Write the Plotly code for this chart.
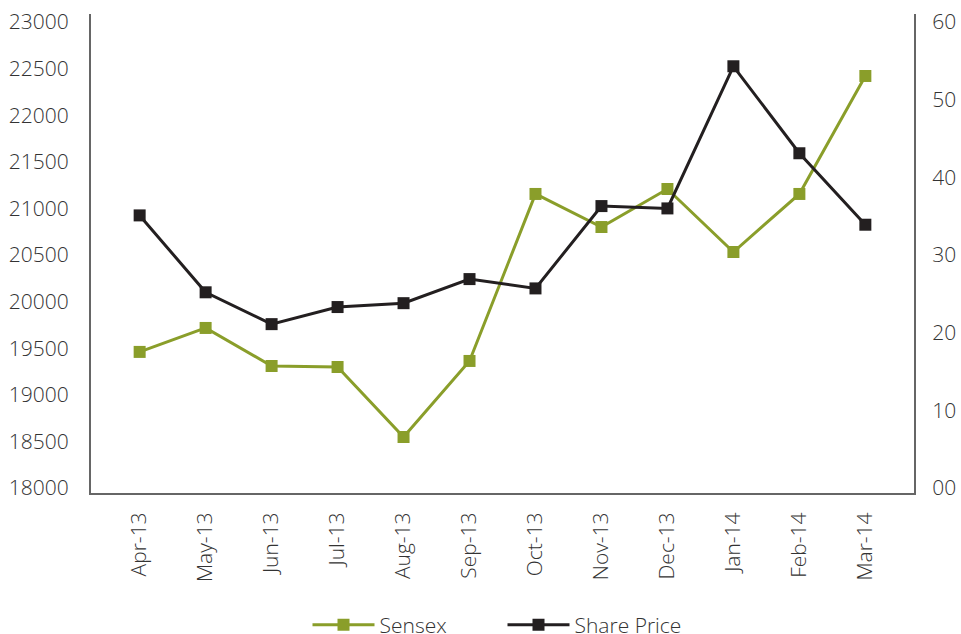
import plotly.graph_objects as go

months = ["Apr-13", "May-13", "Jun-13", "Jul-13", "Aug-13", "Sep-13",
          "Oct-13", "Nov-13", "Dec-13", "Jan-14", "Feb-14", "Mar-14"]
sensex = [19460, 19717, 19309, 19298, 18547, 19363,
          21155, 20800, 21208, 20532, 21155, 22421]
share_price = [35.1, 25.2, 21.1, 23.3, 23.8, 26.9,
               25.7, 36.3, 36.0, 54.3, 43.1, 33.9]
left_ticks = [18000, 18500, 19000, 19500, 20000, 20500, 21000, 21500, 22000, 22500, 23000]
left_labels = [str(v) for v in left_ticks]
right_ticks = [0, 10, 20, 30, 40, 50, 60]
right_labels = ["00", "10", "20", "30", "40", "50", "60"]

GREEN = "#8a9e2a"
BLACK = "#231f20"
FONT = "Open Sans"
TXT = "#333333"
FS = 21

fig = go.Figure()
fig.add_trace(go.Scatter(
    x=months, y=share_price, name="Share Price", yaxis="y2",
    mode="lines+markers",
    line=dict(color=BLACK, width=3),
    marker=dict(symbol="square", size=12, color=BLACK),
    legendrank=2,
))
fig.add_trace(go.Scatter(
    x=months, y=sensex, name="Sensex", yaxis="y",
    mode="lines+markers",
    line=dict(color=GREEN, width=3),
    marker=dict(symbol="square", size=12, color=GREEN),
    legendrank=1,
))

fig.update_layout(
    width=961, height=634,
    margin=dict(l=91, r=47, t=14, b=141, autoexpand=False),
    paper_bgcolor="white", plot_bgcolor="white",
    font=dict(family=FONT, size=FS, color=TXT, weight=300),
    xaxis=dict(
        type="category", tickangle=-90, showgrid=False, automargin=False,
        showline=True, linecolor="#666666", linewidth=2,
        ticks="", ticklabelstandoff=9, zeroline=False,
        tickfont=dict(size=FS, color=TXT),
    ),
    yaxis=dict(
        range=[17946, 23086], tickvals=left_ticks, ticktext=left_labels,
        showgrid=False, automargin=False,
        showline=True, linecolor="#666666", linewidth=2,
        ticks="", ticklabelstandoff=16, zeroline=False,
        tickfont=dict(size=FS, color=TXT),
    ),
    yaxis2=dict(
        range=[-0.64, 61.03], tickvals=right_ticks, ticktext=right_labels,
        overlaying="y", side="right", showgrid=False, automargin=False,
        showline=True, linecolor="#666666", linewidth=2,
        ticks="", ticklabelstandoff=12, zeroline=False,
        tickfont=dict(size=FS, color=TXT),
    ),
    legend=dict(
        orientation="h", x=0.5, xanchor="center", y=-0.2756, yanchor="middle",
        font=dict(size=FS, color=TXT), itemwidth=62, entrywidth=118,
        traceorder="normal",
    ),
    showlegend=True,
)

# remove the browser's default 8px body margin so the figure sits at (0, 0)
fig.write_html(
    "out.html",
    config={"displayModeBar": False},
    post_script="document.body.style.margin='0';document.body.style.overflow='hidden';",
)
